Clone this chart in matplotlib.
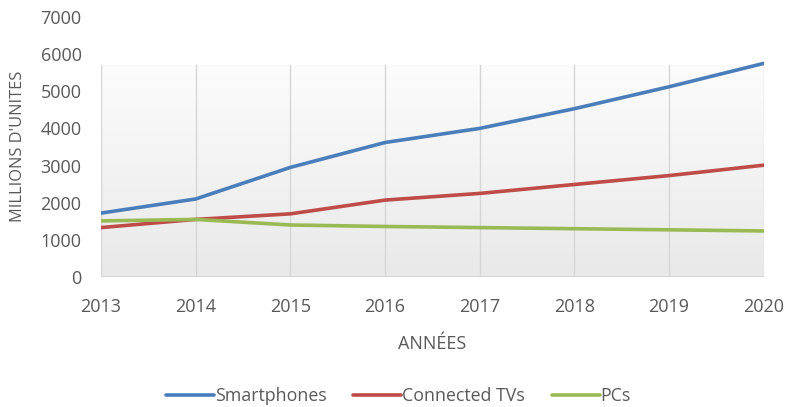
import numpy as np
import matplotlib
matplotlib.use("Agg")
import matplotlib.pyplot as plt
from matplotlib.colors import LinearSegmentedColormap

plt.rcParams['font.family'] = ['Open Sans', 'DejaVu Sans']

years = [2013, 2014, 2015, 2016, 2017, 2018, 2019, 2020]
smartphones = [1720, 2100, 2950, 3620, 4000, 4530, 5120, 5750]
connected_tvs = [1330, 1550, 1700, 2070, 2250, 2490, 2730, 3010]
pcs = [1510, 1550, 1400, 1360, 1330, 1300, 1270, 1240]
y_ticks = [0, 1000, 2000, 3000, 4000, 5000, 6000, 7000]

text_color = '#595959'
series = [
    ("Smartphones", smartphones, '#4A7EBB'),
    ("Connected TVs", connected_tvs, '#BE4B48'),
    ("PCs", pcs, '#98B954'),
]

fig = plt.figure(figsize=(7.89, 4.07), dpi=100)
ax = fig.add_axes([0.128, 0.3194, 0.840, 0.639])

# plot-area fill: soft vertical gradient behind the series
band_top = 5700
grad = LinearSegmentedColormap.from_list('g', ['#e9e9e9', '#fcfcfc'])
ax.imshow(np.linspace(0, 1, 256).reshape(-1, 1), cmap=grad, origin='lower',
          extent=[years[0], years[-1], 0, band_top], aspect='auto', zorder=0)

for yr in years:
    ax.plot([yr, yr], [0, band_top], color='#d6d6d6', lw=1.0, zorder=1)
ax.plot([years[0], years[-1]], [0, 0], color='#d0d0d0', lw=1.2, zorder=1)

for name, vals, col in series:
    ax.plot(years, vals, color=col, lw=2.6, label=name, zorder=3,
            solid_capstyle='round', solid_joinstyle='round')

ax.set_xlim(years[0], years[-1])
ax.set_ylim(0, 7000)
ax.set_xticks(years)
ax.set_yticks(y_ticks)
ax.tick_params(axis='both', length=0, labelsize=13, colors=text_color)
ax.tick_params(axis='x', pad=15)
ax.tick_params(axis='y', pad=14)
for s in ax.spines.values():
    s.set_visible(False)
ax.patch.set_visible(False)

ax.set_xlabel("ANNÉES", fontsize=13, color=text_color, labelpad=14)
fig.text(0.023, 0.64, "MILLIONS D'UNITES", rotation=90, fontsize=11.8,
         color=text_color, ha='center', va='center')

fig.legend(loc='center', bbox_to_anchor=(0.505, 0.027), ncol=3, frameon=False,
           fontsize=12.8, labelcolor=text_color, handlelength=2.7,
           handletextpad=0.05, columnspacing=1.5)

fig.savefig("out.png", dpi=100)
